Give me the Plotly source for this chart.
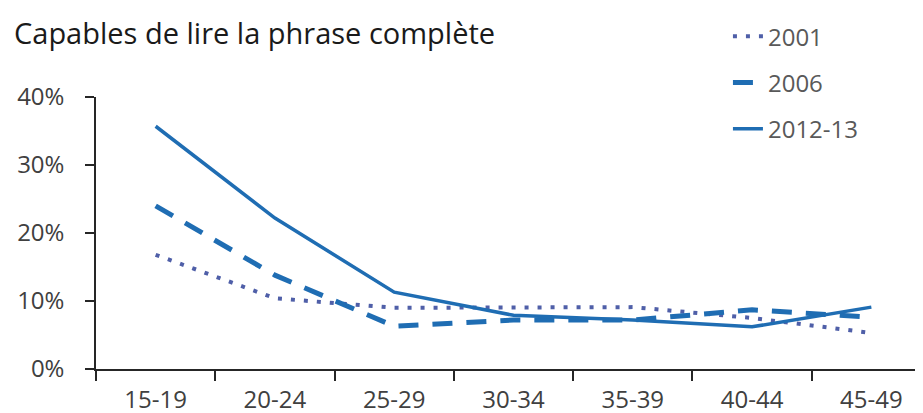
import plotly.graph_objects as go

categories = ["15-19", "20-24", "25-29", "30-34", "35-39", "40-44", "45-49"]
s2001 = [0.168, 0.104, 0.090, 0.091, 0.091, 0.075, 0.053]
s2006 = [0.240, 0.138, 0.063, 0.072, 0.072, 0.087, 0.076]
s2012 = [0.357, 0.222, 0.113, 0.079, 0.072, 0.062, 0.091]
series_names = ["2001", "2006", "2012-13"]
y_ticks = [0, 0.1, 0.2, 0.3, 0.4]
title_text = "Capables de lire la phrase complète"

FONT = "Open Sans, Liberation Sans, sans-serif"

fig = go.Figure()
styles = [
    dict(color="#4f5fa8", width=4, dash="4px,9px"),
    dict(color="#1f6db3", width=5, dash="20px,14px"),
    dict(color="#1f6db3", width=3.5, dash="solid"),
]
for name, vals, st in zip(series_names, [s2001, s2006, s2012], styles):
    fig.add_trace(go.Scatter(
        x=categories, y=vals, name=name, mode="lines",
        line=st, legendgroup=name, hoverinfo="skip",
    ))

fig.update_layout(
    width=923, height=413,
    margin=dict(l=88, r=0, t=89, b=52, autoexpand=False),
    paper_bgcolor="white", plot_bgcolor="white",
    font=dict(family=FONT, size=24, color="#404040"),
    title=dict(text=title_text, x=6 / 923, xanchor="left", xref="container",
               y=1 - 26 / 413, yanchor="middle", yref="container",
               font=dict(family=FONT, size=29, color="#1a1a1a")),
    showlegend=True,
    legend=dict(x=0.780, xanchor="left", xref="container",
                y=0.985, yanchor="top", yref="container",
                font=dict(family=FONT, size=24, color="#595959"),
                tracegroupgap=12, bgcolor="rgba(0,0,0,0)"),
    xaxis=dict(type="category", range=[-0.5, 6.5], tickson="boundaries",
               ticks="outside", ticklen=10, tickwidth=1.5, tickcolor="#262626",
               showline=True, linecolor="#262626", linewidth=1.5,
               showgrid=False, zeroline=False, ticklabelstandoff=8,
               tickfont=dict(family=FONT, size=24, color="#404040")),
    yaxis=dict(range=[0, 0.4], tickvals=y_ticks, tickformat=".0%",
               ticks="outside", ticklen=9, tickwidth=1.5, tickcolor="#262626",
               showline=True, linecolor="#262626", linewidth=1.5,
               showgrid=False, zeroline=False, ticklabelstandoff=16,
               tickfont=dict(family=FONT, size=24, color="#404040")),
)

fig.write_html("out.html")
